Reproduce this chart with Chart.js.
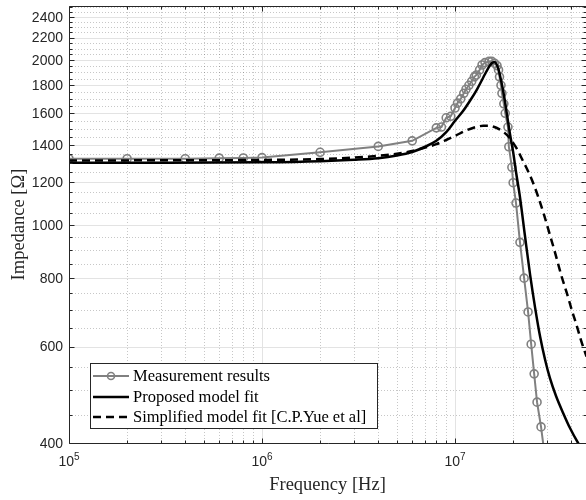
<!DOCTYPE html>
<html>
<head>
<meta charset="utf-8">
<script src="https://cdn.jsdelivr.net/npm/chart.js@4"></script>
<style>
  body { margin: 0; background: #fff; }
  canvas { display: block; }
</style>
</head>
<body>
<canvas id="impedanceChart" width="586" height="500"></canvas>
<script>
// measured impedance (Hz / Ohm)
const measFreq = [1e5, 2e5, 4e5, 6e5, 8e5, 1e6, 2e6, 4e6, 6e6, 8e6, 8.5e6, 9e6, 9.5e6,
  1e7, 1.03e7, 1.07e7, 1.11e7, 1.14e7, 1.18e7, 1.22e7, 1.26e7, 1.29e7, 1.34e7, 1.38e7,
  1.43e7, 1.5e7, 1.55e7, 1.6e7, 1.65e7, 1.68e7, 1.7e7, 1.73e7, 1.75e7, 1.79e7, 1.82e7,
  1.88e7, 1.9e7, 1.97e7, 2.0e7, 2.07e7, 2.17e7, 2.28e7, 2.39e7, 2.48e7, 2.57e7, 2.66e7,
  2.79e7, 2.9e7];
const measImp = [1322, 1322, 1322, 1325, 1326, 1328, 1358, 1392, 1425, 1505, 1510, 1570, 1580,
  1636, 1670, 1700, 1740, 1770, 1800, 1830, 1865, 1880, 1920, 1960,
  1980, 1990, 1990, 1975, 1955, 1920, 1865, 1800, 1740, 1665, 1600,
  1510, 1390, 1275, 1195, 1097, 930, 800, 694, 606, 535, 475,
  428, 385];

// proposed model fit
const propFreq = [1e5, 3e5, 1e6, 2e6, 3e6, 4e6, 5e6, 6e6, 7e6, 8e6, 9e6, 1e7, 1.1e7, 1.2e7,
  1.3e7, 1.4e7, 1.5e7, 1.55e7, 1.6e7, 1.67e7, 1.73e7, 1.795e7, 1.86e7, 1.93e7, 2.0e7,
  2.07e7, 2.17e7, 2.3e7, 2.45e7, 2.6e7, 2.76e7, 2.93e7, 3.1e7, 3.34e7, 3.63e7, 3.94e7,
  4.34e7, 4.8e7];
const propImp = [1300, 1300, 1302, 1308, 1316, 1325, 1340, 1360, 1390, 1425, 1478, 1550, 1615, 1690,
  1770, 1860, 1945, 1975, 1985, 1936, 1840, 1720, 1588, 1460, 1360,
  1250, 1125, 959, 810, 706, 625, 567, 526, 487, 454, 426,
  400, 378];

// simplified model fit [C.P.Yue et al]
const simpFreq = [1e5, 3e5, 1e6, 2e6, 3e6, 4e6, 5e6, 6e6, 7e6, 8e6, 9e6, 1e7, 1.15e7, 1.3e7,
  1.4e7, 1.5e7, 1.6e7, 1.7e7, 1.8e7, 1.9e7, 2.0e7, 2.1e7, 2.2e7, 2.35e7, 2.5e7, 2.7e7, 2.9e7,
  3.1e7, 3.3e7, 3.55e7, 3.8e7, 4.05e7, 4.3e7, 4.5e7, 4.8e7];
const simpImp = [1312, 1313, 1315, 1320, 1328, 1338, 1350, 1365, 1385, 1405, 1430, 1455, 1490, 1512,
  1518, 1518, 1510, 1495, 1475, 1448, 1413, 1375, 1330, 1270, 1210, 1125, 1040,
  960, 890, 810, 750, 695, 650, 615, 575];

const xMajor = [1e5, 1e6, 1e7];
const xExp = ["5", "6", "7"];
const xMinor = [2e5, 3e5, 4e5, 5e5, 6e5, 7e5, 8e5, 9e5, 2e6, 3e6, 4e6, 5e6, 6e6, 7e6, 8e6, 9e6,
  2e7, 3e7, 4e7];
const yTicks = [400, 600, 800, 1000, 1200, 1400, 1600, 1800, 2000, 2200, 2400];
const yMinor = [];
for (let v = 450; v <= 2500; v += 50) if (v % 200 !== 0) yMinor.push(v);

const legendLabels = ["Measurement results", "Proposed model fit", "Simplified model fit [C.P.Yue et al]"];

const toPoints = (xs, ys) => xs.map((x, i) => ({ x: x, y: ys[i] }));

const axisColor = "#262626";
const sans = "'Liberation Sans', Arial, sans-serif";
const serif = "'Liberation Serif', 'Times New Roman', serif";

const px = (v) => Math.round(v) + 0.5;

const frame = {
  id: "frame",
  beforeDatasetsDraw(chart) {
    const { ctx, chartArea: a, scales: { x, y } } = chart;
    ctx.save();
    ctx.lineWidth = 1;
    // minor grid, dotted
    ctx.strokeStyle = "rgba(0,0,0,0.22)";
    ctx.setLineDash([1, 2]);
    xMinor.forEach((v) => {
      const p = px(x.getPixelForValue(v));
      ctx.beginPath(); ctx.moveTo(p, a.top); ctx.lineTo(p, a.bottom); ctx.stroke();
    });
    yMinor.forEach((v) => {
      const p = px(y.getPixelForValue(v));
      ctx.beginPath(); ctx.moveTo(a.left, p); ctx.lineTo(a.right, p); ctx.stroke();
    });
    // major grid
    ctx.setLineDash([]);
    ctx.strokeStyle = "#e3e3e3";
    xMajor.forEach((v) => {
      const p = px(x.getPixelForValue(v));
      ctx.beginPath(); ctx.moveTo(p, a.top); ctx.lineTo(p, a.bottom); ctx.stroke();
    });
    yTicks.forEach((v) => {
      const p = px(y.getPixelForValue(v));
      ctx.beginPath(); ctx.moveTo(a.left, p); ctx.lineTo(a.right, p); ctx.stroke();
    });
    ctx.restore();
  },
  afterDraw(chart) {
    const { ctx, chartArea: a, scales: { x, y } } = chart;
    ctx.save();
    const L = px(a.left), R = px(a.right) - 1, T = px(a.top), B = px(a.bottom);

    // inward tick marks
    ctx.strokeStyle = axisColor;
    ctx.lineWidth = 1;
    const vt = (v, len) => {
      const p = px(x.getPixelForValue(v));
      ctx.beginPath(); ctx.moveTo(p, B); ctx.lineTo(p, B - len);
      ctx.moveTo(p, T); ctx.lineTo(p, T + len); ctx.stroke();
    };
    const ht = (v, len) => {
      const p = px(y.getPixelForValue(v));
      ctx.beginPath(); ctx.moveTo(L, p); ctx.lineTo(L + len, p);
      ctx.moveTo(R + 1, p); ctx.lineTo(R + 1 - len, p); ctx.stroke();
    };
    xMajor.forEach((v) => vt(v, 5));
    xMinor.forEach((v) => vt(v, 3));
    yTicks.forEach((v) => ht(v, 5));
    yMinor.forEach((v) => ht(v, 3));

    // box (right edge sits on the canvas border)
    ctx.beginPath();
    ctx.moveTo(L, T); ctx.lineTo(a.right + 1, T);
    ctx.moveTo(L, T); ctx.lineTo(L, B); ctx.lineTo(a.right + 1, B);
    ctx.stroke();

    // y tick labels
    ctx.fillStyle = axisColor;
    ctx.font = "14px " + sans;
    ctx.textAlign = "right";
    ctx.textBaseline = "middle";
    yTicks.forEach((v) => {
      ctx.fillText(String(v), a.left - 6, y.getPixelForValue(v) + 1);
    });

    // x tick labels 10^n
    ctx.textBaseline = "alphabetic";
    xMajor.forEach((v, i) => {
      const p = x.getPixelForValue(v);
      ctx.font = "14px " + sans;
      const w1 = ctx.measureText("10").width;
      ctx.font = "10px " + sans;
      const w2 = ctx.measureText(xExp[i]).width;
      const start = p - (w1 + w2) / 2;
      ctx.font = "14px " + sans;
      ctx.textAlign = "left";
      ctx.fillText("10", start, 466);
      ctx.font = "10px " + sans;
      ctx.fillText(xExp[i], start + w1, 460);
    });

    // axis titles
    ctx.fillStyle = axisColor;
    ctx.font = "18.5px " + serif;
    ctx.textAlign = "center";
    ctx.fillText("Frequency [Hz]", (a.left + a.right) / 2, 490);
    ctx.save();
    ctx.translate(24, (a.top + a.bottom) / 2);
    ctx.rotate(-Math.PI / 2);
    ctx.fillText("Impedance [\u03A9]", 0, 0);
    ctx.restore();

    // legend
    const bx = 90.5, by = 363.5, bw = 287, bh = 65;
    ctx.fillStyle = "#fff";
    ctx.fillRect(bx, by, bw, bh);
    ctx.strokeStyle = axisColor;
    ctx.lineWidth = 1;
    ctx.strokeRect(bx, by, bw, bh);
    const rows = [376, 397, 417];
    const sets = chart.data.datasets;
    ctx.font = "16.5px " + serif;
    ctx.textAlign = "left";
    ctx.textBaseline = "middle";
    rows.forEach((ry, i) => {
      const ds = sets[i];
      ctx.strokeStyle = ds.borderColor;
      ctx.lineWidth = ds.borderWidth;
      ctx.setLineDash(ds.borderDash || []);
      ctx.beginPath(); ctx.moveTo(93, ry); ctx.lineTo(129, ry); ctx.stroke();
      ctx.setLineDash([]);
      if (ds.pointRadius) {
        ctx.lineWidth = ds.pointBorderWidth;
        ctx.beginPath(); ctx.arc(111, ry, ds.pointRadius - 0.5, 0, Math.PI * 2); ctx.stroke();
      }
      ctx.fillStyle = "#000";
      ctx.fillText(legendLabels[i], 133, ry + 1);
    });
    ctx.restore();
  },
};

const chart = new Chart(document.getElementById("impedanceChart"), {
  type: "line",
  data: {
    datasets: [
      {
        label: legendLabels[0],
        data: toPoints(measFreq, measImp),
        borderColor: "#808080",
        borderWidth: 2,
        pointRadius: 4,
        pointBorderWidth: 1.6,
        pointBorderColor: "#808080",
        pointBackgroundColor: "rgba(0,0,0,0)",
        order: 2,
        clip: 0,
      },
      {
        label: legendLabels[1],
        data: toPoints(propFreq, propImp),
        borderColor: "#000",
        borderWidth: 2.5,
        pointRadius: 0,
        cubicInterpolationMode: "monotone",
        order: 0,
        clip: 0,
      },
      {
        label: legendLabels[2],
        data: toPoints(simpFreq, simpImp),
        borderColor: "#000",
        borderWidth: 2.5,
        borderDash: [8, 5],
        pointRadius: 0,
        cubicInterpolationMode: "monotone",
        order: 1,
        clip: 0,
      },
    ],
  },
  options: {
    responsive: false,
    animation: false,
    devicePixelRatio: 1,
    layout: { autoPadding: false, padding: { top: 6, right: 0, left: 0, bottom: 0 } },
    scales: {
      x: {
        type: "logarithmic",
        min: 1e5,
        max: 4.77e7,
        ticks: { display: false },
        grid: { display: false, drawTicks: false },
        border: { display: false },
        afterFit: (s) => { s.height = 57; },
      },
      y: {
        type: "logarithmic",
        min: 400,
        max: 2512,
        ticks: { display: false },
        grid: { display: false, drawTicks: false },
        border: { display: false },
        afterFit: (s) => { s.width = 69; },
      },
    },
    plugins: {
      legend: { display: false },
      tooltip: { enabled: false },
    },
  },
  plugins: [frame],
});
</script>
</body>
</html>
